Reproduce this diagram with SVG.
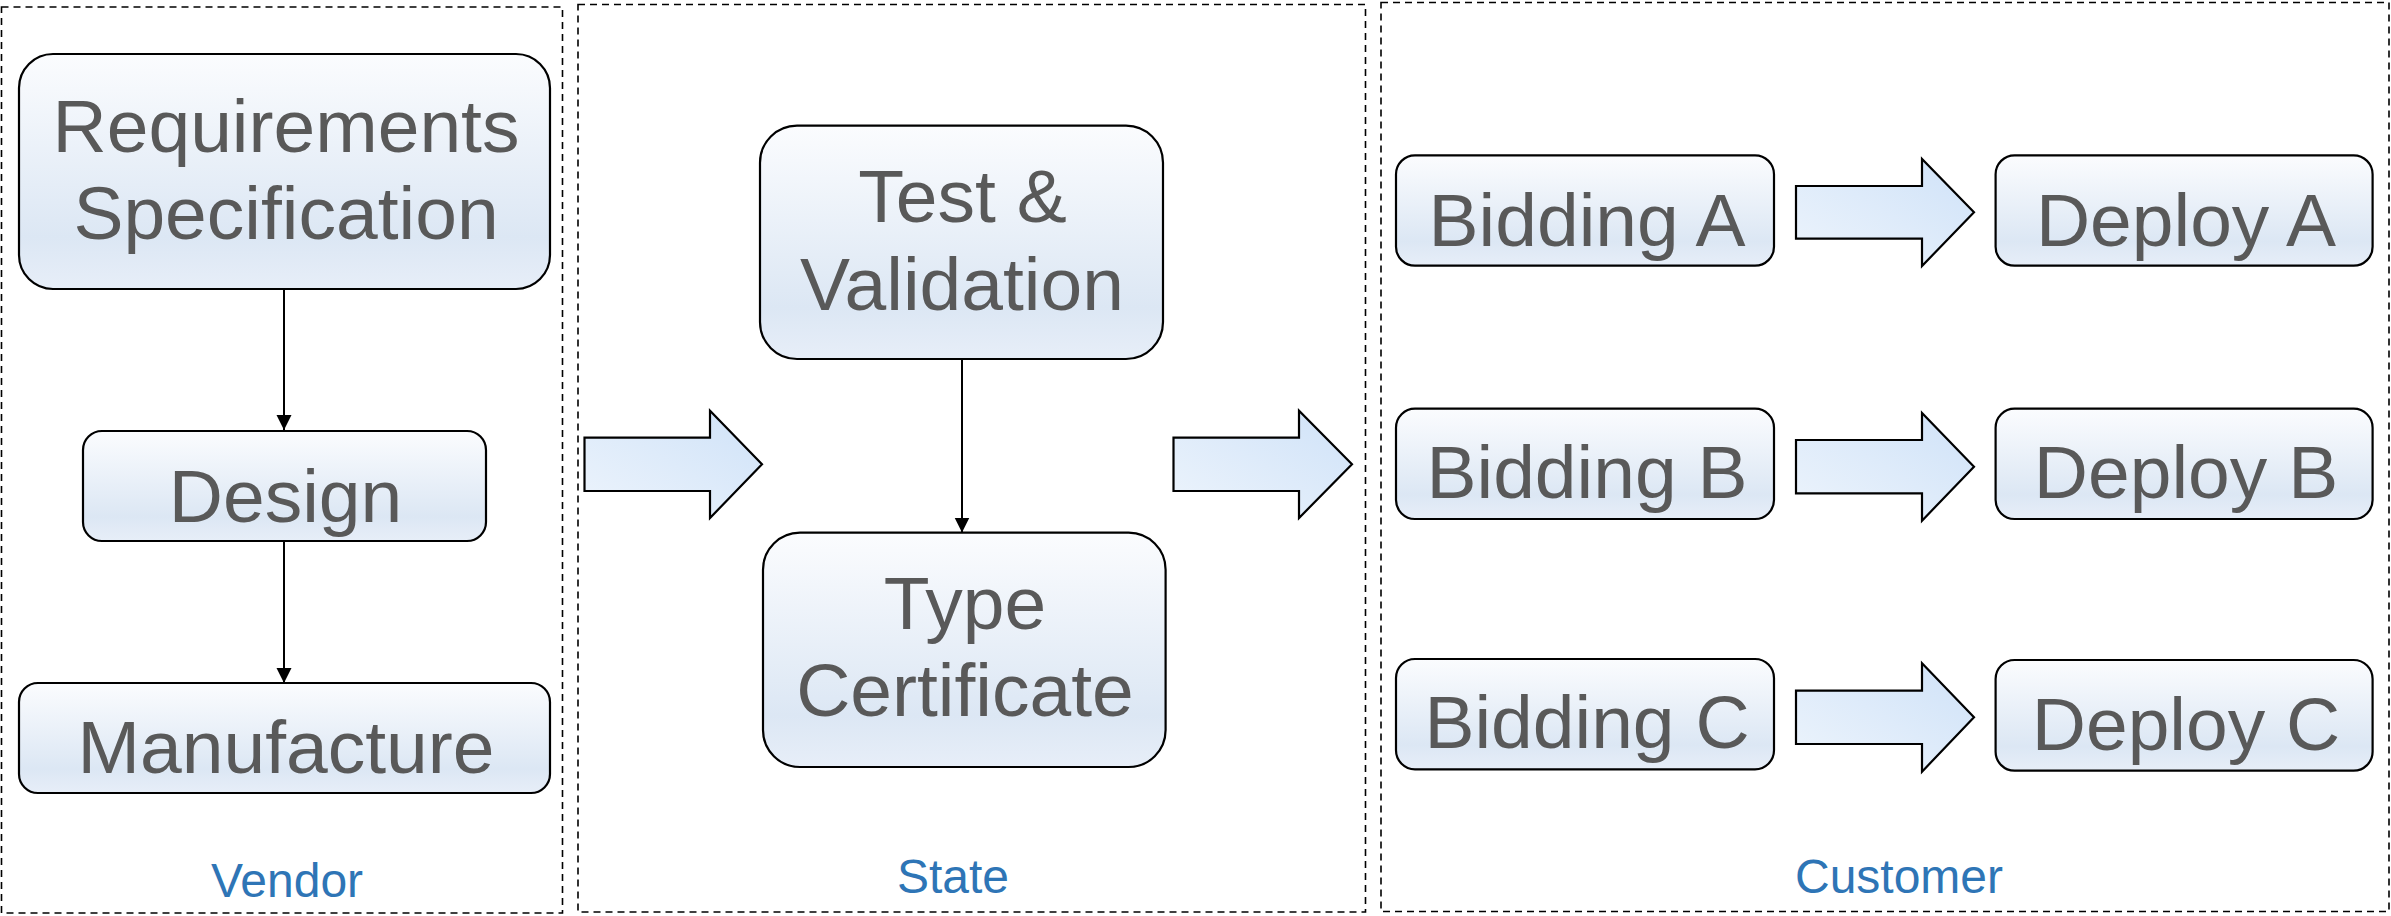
<svg xmlns="http://www.w3.org/2000/svg" width="2391" height="916" viewBox="0 0 2391 916">
<defs>
<linearGradient id="nodeGrad" x1="0" y1="0" x2="0" y2="1">
<stop offset="0" stop-color="#FBFCFE"/>
<stop offset="0.78" stop-color="#DCE7F4"/>
<stop offset="1" stop-color="#E7EEF8"/>
</linearGradient>
<linearGradient id="arrowGrad" x1="0" y1="1" x2="1" y2="0">
<stop offset="0" stop-color="#EDF4FC"/>
<stop offset="1" stop-color="#CFE2F8"/>
</linearGradient>
<marker id="head" markerWidth="16" markerHeight="16" refX="15" refY="7.5" orient="auto" markerUnits="userSpaceOnUse">
<path d="M0,0 L15,7.5 L0,15 Z" fill="#000"/>
</marker>
</defs>
<style>
.panel{fill:none;stroke:#000;stroke-width:1.6;stroke-dasharray:7 5}
.node{fill:url(#nodeGrad);stroke:#000;stroke-width:2.2}
.big{fill:url(#arrowGrad);stroke:#000;stroke-width:2.2;stroke-linejoin:miter}
.t{font-family:"Liberation Sans",Arial,sans-serif;font-size:75px;fill:#595959;text-anchor:middle}
.lbl{font-family:"Liberation Sans",Arial,sans-serif;font-size:48px;fill:#2E75B6;text-anchor:middle}
.conn{stroke:#000;stroke-width:2;fill:none}
</style>
<rect width="2391" height="916" fill="#fff"/>
<g id="panels">
<rect class="panel" x="1.5" y="7" width="561" height="906"/>
<rect class="panel" x="578" y="4.5" width="787.5" height="907.5"/>
<rect class="panel" x="1381" y="2.5" width="1008" height="909"/>
</g>
<g id="panel-labels">
<text class="lbl" x="287" y="897">Vendor</text>
<text class="lbl" x="953" y="893">State</text>
<text class="lbl" x="1899" y="893">Customer</text>
</g>
<g id="connectors">
<line class="conn" x1="284" y1="289" x2="284" y2="430" marker-end="url(#head)"/>
<line class="conn" x1="284" y1="541" x2="284" y2="683" marker-end="url(#head)"/>
<line class="conn" x1="962" y1="359" x2="962" y2="532.5" marker-end="url(#head)"/>
<path class="big" d="M584.5,437.7 H710 V410.7 L762,464.3 L710,518 V491 H584.5 Z"/>
<path class="big" d="M1173.5,437.7 H1299 V410.7 L1352,464.3 L1299,518 V491 H1173.5 Z"/>
<path class="big" d="M1796,186 H1922 V159 L1974,212.3 L1922,266 V238.7 H1796 Z"/>
<path class="big" d="M1796,440 H1922 V413 L1974,466.7 L1922,520.7 V493.3 H1796 Z"/>
<path class="big" d="M1796,690.7 H1922 V663.3 L1974,717.3 L1922,771.7 V744 H1796 Z"/>
</g>
<g id="req-spec">
<rect class="node" x="19" y="54" width="531" height="235" rx="34" ry="34"/>
<text class="t" x="286" y="152">Requirements</text>
<text class="t" x="286" y="239">Specification</text>
</g>
<g id="design">
<rect class="node" x="83" y="431" width="403" height="110" rx="19" ry="19"/>
<text class="t" x="285.5" y="522">Design</text>
</g>
<g id="manufacture">
<rect class="node" x="19" y="683" width="531" height="110" rx="19" ry="19"/>
<text class="t" x="286" y="773">Manufacture</text>
</g>
<g id="test-validation">
<rect class="node" x="760" y="125.7" width="403" height="233.3" rx="37" ry="37"/>
<text class="t" x="962.5" y="222">Test &amp;</text>
<text class="t" x="962" y="310">Validation</text>
</g>
<g id="type-certificate">
<rect class="node" x="763" y="532.7" width="402.6" height="234.3" rx="37" ry="37"/>
<text class="t" x="965" y="628.7">Type</text>
<text class="t" x="965" y="716">Certificate</text>
</g>
<g id="bidding-a">
<rect class="node" x="1396" y="155.3" width="378" height="110.4" rx="19" ry="19"/>
<text class="t" x="1587" y="246">Bidding A</text>
</g>
<g id="deploy-a">
<rect class="node" x="1995.6" y="155.3" width="377" height="110.4" rx="19" ry="19"/>
<text class="t" x="2186" y="246">Deploy A</text>
</g>
<g id="bidding-b">
<rect class="node" x="1396" y="408.7" width="378" height="110.3" rx="19" ry="19"/>
<text class="t" x="1587" y="498">Bidding B</text>
</g>
<g id="deploy-b">
<rect class="node" x="1995.6" y="408.7" width="377" height="110.3" rx="19" ry="19"/>
<text class="t" x="2186" y="498">Deploy B</text>
</g>
<g id="bidding-c">
<rect class="node" x="1396" y="659" width="378" height="110.3" rx="19" ry="19"/>
<text class="t" x="1587" y="748">Bidding C</text>
</g>
<g id="deploy-c">
<rect class="node" x="1995.6" y="660" width="377" height="110.7" rx="19" ry="19"/>
<text class="t" x="2186" y="750">Deploy C</text>
</g>
</svg>
